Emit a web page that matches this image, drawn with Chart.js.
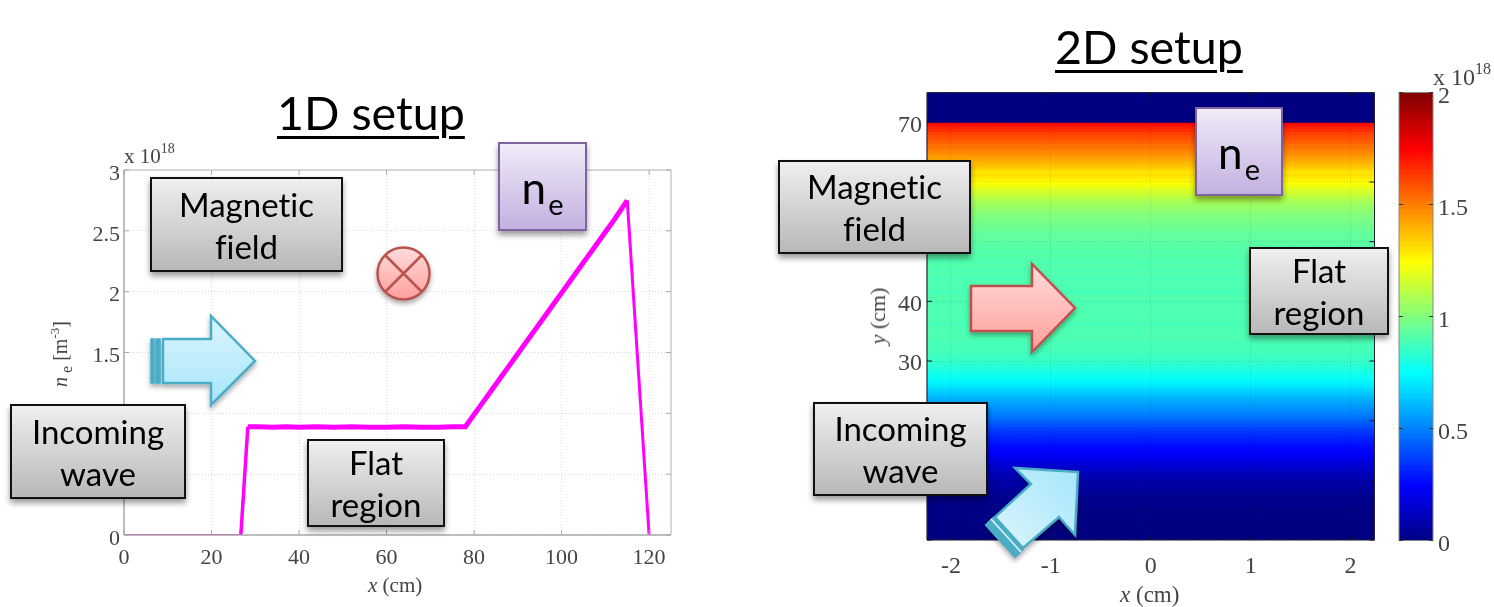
<!DOCTYPE html>
<html><head><meta charset="utf-8">
<script src="https://cdn.jsdelivr.net/npm/chart.js@4/dist/chart.umd.min.js"></script>
<style>
html,body{margin:0;padding:0;background:#fff;width:1494px;height:607px;overflow:hidden}
#page{position:relative;width:1494px;height:607px;filter:blur(0.45px)}
.cv{position:absolute}
.t{position:absolute;white-space:nowrap;font-family:"Liberation Serif",serif;color:#444}
.title{position:absolute;font-family:Lato,sans-serif;font-size:46.6px;color:#000;line-height:52px;white-space:nowrap;font-variant-ligatures:none;text-decoration:underline;text-decoration-thickness:3px;text-underline-offset:6px}
.box{position:absolute;box-sizing:border-box;border:2.5px solid #111;background:linear-gradient(#efefef,#b8b8b8);box-shadow:0 4px 6px rgba(0,0,0,.4);font-family:Lato,sans-serif;font-size:33px;line-height:42px;color:#000;text-align:center;display:flex;align-items:center;justify-content:center;font-variant-ligatures:none}
.ne{border-color:#7f63a1;background:linear-gradient(#f0ebf8,#c3b0e0);font-size:44px}
.ne sub{font-size:29px;line-height:0;vertical-align:-11px;margin-left:2px}
sup{line-height:0}
svg.ov{position:absolute;left:0;top:0;overflow:visible}
</style></head><body>
<div id="page">
<canvas id="c1" class="cv" style="left:0;top:130px" width="700" height="477"></canvas>
<canvas id="c2" class="cv" style="left:760px;top:80px" width="640" height="527"></canvas>
<canvas id="c3" class="cv" style="left:1390px;top:80px" width="104" height="527"></canvas>

<div class="title" style="left:277px;top:86px">1D setup</div>
<div class="title" style="left:1055px;top:20px">2D setup</div>

<div class="t" style="left:124px;top:144px;font-size:21px">x 10<sup style="font-size:14px;vertical-align:10px">18</sup></div>
<div class="t" style="left:1433px;top:64px;font-size:24px">x 10<sup style="font-size:16px;vertical-align:11px">18</sup></div>
<div class="t" style="left:368px;top:573px;font-size:21px"><i>x</i> (cm)</div>
<div class="t" style="left:1120px;top:582px;font-size:23px"><i>x</i> (cm)</div>
<div class="t" style="left:878px;top:316px;font-size:22px;transform:translate(-50%,-50%) rotate(-90deg)"><i>y</i> (cm)</div>
<div class="t" style="left:62px;top:354px;font-size:20px;transform:translate(-50%,-50%) rotate(-90deg)"><i>n</i><span style="font-size:16px;vertical-align:-5px"> e</span> [m<sup style="font-size:13px;vertical-align:8px">-3</sup>]</div>

<svg class="ov" width="1494" height="607">
<defs>
<linearGradient id="gb" x1="0" y1="0" x2="0" y2="1"><stop offset="0" stop-color="#dcf5fc"/><stop offset="1" stop-color="#a5e6fb"/></linearGradient>
<linearGradient id="gbd" x1="0" y1="1" x2="1" y2="0"><stop offset="0" stop-color="#dcf5fc"/><stop offset="1" stop-color="#a5e6fb"/></linearGradient>
<linearGradient id="gr" x1="0" y1="0" x2="0" y2="1"><stop offset="0" stop-color="#ffdcdc"/><stop offset="1" stop-color="#ff9f9c"/></linearGradient>
<filter id="sh" x="-20%" y="-20%" width="140%" height="150%"><feDropShadow dx="0" dy="3" stdDeviation="2.5" flood-color="#000" flood-opacity=".35"/></filter>
</defs>
<g filter="url(#sh)" stroke-width="2.5" stroke-linejoin="miter">
<g stroke="#4bacc6" fill="#4bacc6">
<rect x="151" y="339" width="3" height="44" stroke-width="1.5"/>
<rect x="156" y="339" width="4" height="44" stroke-width="1.5"/>
</g>
<path d="M163 339H211V316L255 361L211 405V383H163Z" fill="url(#gb)" stroke="#4bacc6"/>
<circle cx="403.5" cy="273.5" r="26" fill="url(#gr)" stroke="#b9524e"/>
<path d="M385 255L422 292M422 255L385 292" stroke="#b9524e" fill="none"/>
<path d="M971 286H1032V264L1075 308L1032 352V331H971Z" fill="url(#gr)" stroke="#c0504d"/>
<path d="M985 525L993 517L1024 549L1015 558Z" fill="#4bacc6" stroke="#4bacc6" stroke-width="1"/>
<path d="M1078 472L1015 468L1031 484L995 517L1023 548L1059 517L1075 535Z" fill="url(#gbd)" stroke="#4bacc6"/>
<path d="M991 519L1021 552" stroke="#d5f3fb" stroke-width="1.8" fill="none"/>
</g>
</svg>

<div class="box" style="left:150px;top:177px;width:193px;height:95px">Magnetic<br>field</div>
<div class="box" style="left:10px;top:404px;width:176px;height:95px">Incoming<br>wave</div>
<div class="box" style="left:307px;top:439px;width:138px;height:88px">Flat<br>region</div>
<div class="box ne" style="left:498px;top:142px;width:89px;height:89px"><span>n<sub>e</sub></span></div>
<div class="box" style="left:778px;top:160px;width:193px;height:94px">Magnetic<br>field</div>
<div class="box" style="left:813px;top:402px;width:175px;height:94px">Incoming<br>wave</div>
<div class="box" style="left:1249px;top:247px;width:140px;height:88px">Flat<br>region</div>
<div class="box ne" style="left:1195px;top:107px;width:88px;height:89px"><span>n<sub>e</sub></span></div>
</div>
<script>
// ---------- data ----------
const profileX = [0,10,20,26.7,28.3,31,34,37,40,44,48,52,56,60,64,68,72,75,78,80,82,84,86,88,90,92,94,96,98,100,102,104,106,108,110,112,113.5,115,120];
const profileNe = [0,0,0,0,0.89,0.89,0.885,0.89,0.885,0.89,0.885,0.89,0.885,0.885,0.89,0.885,0.885,0.89,0.89,0.99,1.09,1.19,1.29,1.39,1.49,1.59,1.69,1.79,1.89,1.99,2.09,2.19,2.29,2.39,2.49,2.59,2.67,2.75,0];
const xTicks1D = [0,20,40,60,80,100,120];
const yTicks1D = [0,0.5,1,1.5,2,2.5,3];
const xTicks2D = [-2,-1,0,1,2];
const yTicks2D = [0,10,20,30,40,50,60,70];
const cbarTicks = [0,0.5,1,1.5,2];
const xExtent2D = [-2.24,2.24];
const yBands = [
0.25,0.75,1.25,1.75,2.25,2.75,3.25,3.75,4.25,4.75,5.25,5.75,6.25,6.75,7.25,7.75,8.25,8.75,9.25,9.75,
10.25,10.75,11.25,11.75,12.25,12.75,13.25,13.75,14.25,14.75,15.25,15.75,16.25,16.75,17.25,17.75,18.25,18.75,19.25,19.75,
20.25,20.75,21.25,21.75,22.25,22.75,23.25,23.75,24.25,24.75,25.25,25.75,26.25,26.75,27.25,27.75,28.25,28.75,29.25,29.75,
30.25,30.75,31.25,31.75,32.25,32.75,33.25,33.75,34.25,34.75,35.25,35.75,36.25,36.75,37.25,37.75,38.25,38.75,39.25,39.75,
40.25,40.75,41.25,41.75,42.25,42.75,43.25,43.75,44.25,44.75,45.25,45.75,46.25,46.75,47.25,47.75,48.25,48.75,49.25,49.75,
50.25,50.75,51.25,51.75,52.25,52.75,53.25,53.75,54.25,54.75,55.25,55.75,56.25,56.75,57.25,57.75,58.25,58.75,59.25,59.75,
60.25,60.75,61.25,61.75,62.25,62.75,63.25,63.75,64.25,64.75,65.25,65.75,66.25,66.75,67.25,67.75,68.25,68.75,69.25,69.75,
70.25,70.75,71.25,71.75,72.25,72.75,73.25,73.75,74.25,74.75];
const bandNe = [
0,0,0,0,0,0,0.01,0.01,0.01,0.01,
0.01,0.02,0.02,0.03,0.03,0.04,0.05,0.06,0.07,0.08,
0.09,0.10,0.12,0.13,0.15,0.17,0.19,0.21,0.23,0.25,
0.26,0.27,0.29,0.30,0.32,0.34,0.36,0.38,0.41,0.43,
0.46,0.48,0.50,0.52,0.54,0.56,0.58,0.60,0.62,0.65,
0.67,0.70,0.72,0.74,0.77,0.78,0.80,0.81,0.83,0.85,
0.86,0.87,0.88,0.88,0.89,0.89,0.89,0.90,0.90,0.90,
0.90,0.90,0.89,0.90,0.90,0.91,0.90,0.90,0.91,0.90,
0.90,0.91,0.90,0.89,0.90,0.90,0.91,0.90,0.90,0.91,
0.90,0.91,0.91,0.90,0.91,0.92,0.91,0.92,0.92,0.93,
0.93,0.94,0.94,0.95,0.96,0.97,0.98,0.99,1.00,1.01,
1.03,1.04,1.06,1.08,1.10,1.13,1.16,1.18,1.21,1.24,
1.26,1.29,1.31,1.30,1.34,1.37,1.39,1.42,1.44,1.47,
1.49,1.52,1.53,1.56,1.59,1.60,1.63,1.66,1.69,1.73,
0,0,0,0,0,0,0,0,0,0];
const cbarLevels = [
0.01,0.03,0.05,0.07,0.09,0.11,0.13,0.15,0.17,0.19,0.21,0.23,0.25,0.27,0.29,0.31,0.33,0.35,0.37,0.39,
0.41,0.43,0.45,0.47,0.49,0.51,0.53,0.55,0.57,0.59,0.61,0.63,0.65,0.67,0.69,0.71,0.73,0.75,0.77,0.79,
0.81,0.83,0.85,0.87,0.89,0.91,0.93,0.95,0.97,0.99,1.01,1.03,1.05,1.07,1.09,1.11,1.13,1.15,1.17,1.19,
1.21,1.23,1.25,1.27,1.29,1.31,1.33,1.35,1.37,1.39,1.41,1.43,1.45,1.47,1.49,1.51,1.53,1.55,1.57,1.59,
1.61,1.63,1.65,1.67,1.69,1.71,1.73,1.75,1.77,1.79,1.81,1.83,1.85,1.87,1.89,1.91,1.93,1.95,1.97,1.99];
const cbarExtent = [0,1];

// ---------- helpers ----------
const clamp01 = v => Math.max(0,Math.min(1,v));
function jet(v){ const t=clamp01(v/2);
  const f=c=>Math.round(255*clamp01(1.5-Math.abs(4*t-c)));
  return `rgb(${f(3)},${f(2)},${f(1)})`; }
const fixTicks = arr => s => { s.ticks = arr.map(v=>({value:v})); };
const pin = (dim,px) => s => { s[dim]=px; s.paddingTop=s.paddingBottom=s.paddingLeft=s.paddingRight=0; };
const SERIF = '"Liberation Serif",serif';
const plain = v => String(v);

const framePlugin = {
  id:'frame',
  afterDatasetsDraw(chart,args,o){
    const {ctx,chartArea:a,scales}=chart;
    ctx.save();
    ctx.lineCap='butt';
    const line=(x1,y1,x2,y2,c,w)=>{ctx.strokeStyle=c;ctx.lineWidth=w;ctx.beginPath();ctx.moveTo(x1,y1);ctx.lineTo(x2,y2);ctx.stroke();};
    line(a.left,a.top,a.right,a.top,o.top,o.topW);
    line(a.right,a.top,a.right,a.bottom,o.top,o.topW);
    line(a.left,a.bottom,a.right,a.bottom,o.axis,o.axisW);
    line(a.left,a.top,a.left,a.bottom,o.axis,o.axisW);
    const L=o.tick;
    if(scales.x&&scales.x.options.display) for(const t of scales.x.ticks){const p=scales.x.getPixelForValue(t.value);
      line(p,a.bottom,p,a.bottom-L,o.tickC,1);line(p,a.top,p,a.top+L,o.tickC,1);}
    for(const t of scales.y.ticks){const p=scales.y.getPixelForValue(t.value);
      line(a.left,p,a.left+L,p,o.tickC,1);line(a.right,p,a.right-L,p,o.tickC,1);}
    ctx.restore();
  }
};
const base = {responsive:false,animation:false,events:[]};
const tickFont = s => ({family:SERIF,size:s});

// ---------- 1D profile ----------
new Chart(document.getElementById('c1'),{
  type:'line',
  data:{datasets:[{
    data:profileX.map((x,i)=>({x,y:profileNe[i]})),
    borderColor:'#ff00ff',borderWidth:5,pointRadius:0,tension:0,
    borderJoinStyle:'miter',
    segment:{borderWidth:c=>{const x=c.p0.parsed.x;return x<26?2:(x<27?3.5:(x>=115?3:5));}}
  }]},
  options:{...base,
    layout:{autoPadding:false,padding:{left:0,top:40,right:29,bottom:0}},
    plugins:{legend:{display:false},tooltip:{enabled:false},
      frame:{top:'#d8d8d8',topW:2,axis:'#aaa',axisW:1.5,tick:5,tickC:'#aaa'}},
    scales:{
      x:{type:'linear',min:0,max:125,afterBuildTicks:fixTicks(xTicks1D),afterFit:pin('height',72),
        border:{display:false,dash:[1,2]},grid:{color:'#d9d9d9',drawTicks:false},
        ticks:{font:tickFont(22),color:'#444',padding:10,maxRotation:0,autoSkip:false,callback:plain}},
      y:{type:'linear',min:0,max:3,afterBuildTicks:fixTicks(yTicks1D),afterFit:pin('width',124),
        border:{display:false,dash:[1,2]},grid:{color:'#d9d9d9',drawTicks:false},
        ticks:{font:tickFont(22),color:'#444',padding:4,labelOffset:4,autoSkip:false,callback:plain}}
    }},
  plugins:[framePlugin]
});

// ---------- 2D map (flat bands over x) ----------
new Chart(document.getElementById('c2'),{
  type:'bar',
  data:{datasets:[{
    data:yBands.map(y=>({y,x:xExtent2D})),
    backgroundColor:bandNe.map(jet),borderWidth:0,barThickness:3.4
  }]},
  options:{...base,indexAxis:'y',
    layout:{autoPadding:false,padding:{left:0,top:12.5,right:25.5,bottom:0}},
    plugins:{legend:{display:false},tooltip:{enabled:false},
      frame:{top:'#223',topW:1,axis:'#223',axisW:1.2,tick:5,tickC:'#113'}},
    scales:{
      x:{type:'linear',min:xExtent2D[0],max:xExtent2D[1],afterBuildTicks:fixTicks(xTicks2D),afterFit:pin('height',67),
        border:{display:false,dash:[1,2]},grid:{z:1,color:'rgba(0,0,0,.16)',drawTicks:false},
        ticks:{font:tickFont(24),color:'#444',padding:12,maxRotation:0,autoSkip:false,callback:plain}},
      y:{type:'linear',min:0,max:75,offset:false,afterBuildTicks:fixTicks(yTicks2D),afterFit:pin('width',167),
        border:{display:false,dash:[1,2]},grid:{z:1,color:'rgba(0,0,0,.16)',drawTicks:false,offset:false},
        ticks:{font:tickFont(24),color:'#444',padding:5,labelOffset:3,autoSkip:false,callback:v=>v===0?'':String(v)}}
    }},
  plugins:[framePlugin]
});

// ---------- colour bar ----------
new Chart(document.getElementById('c3'),{
  type:'bar',
  data:{datasets:[{
    data:cbarLevels.map(y=>({y,x:cbarExtent})),
    backgroundColor:cbarLevels.map(jet),borderWidth:0,barThickness:6
  }]},
  options:{...base,indexAxis:'y',
    layout:{autoPadding:false,padding:{left:9,top:12.5,right:0,bottom:66.5}},
    plugins:{legend:{display:false},tooltip:{enabled:false},
      frame:{top:'#888',topW:1,axis:'#888',axisW:1,tick:4,tickC:'#333'}},
    scales:{
      x:{type:'linear',min:0,max:1,display:false},
      y:{type:'linear',position:'right',min:0,max:2,offset:false,afterBuildTicks:fixTicks(cbarTicks),afterFit:pin('width',61),
        border:{display:false},grid:{display:false,drawTicks:false},
        ticks:{font:tickFont(24),color:'#444',padding:5,labelOffset:4,autoSkip:false,callback:plain}}
    }},
  plugins:[framePlugin]
});
</script>
</body></html>
